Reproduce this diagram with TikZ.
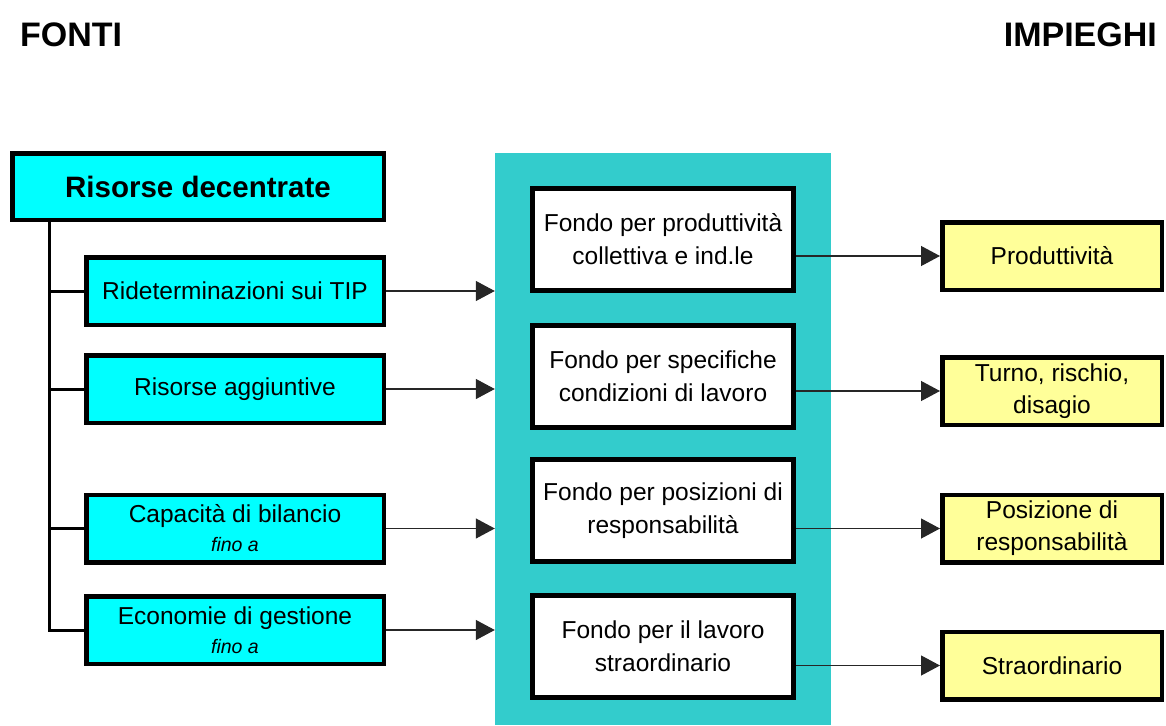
\documentclass[tikz,border=0pt]{standalone}
\usepackage{fontspec}
\setmainfont{Liberation Sans}
\usetikzlibrary{arrows.meta}
\definecolor{cyanbox}{HTML}{00FFFF}
\definecolor{yelbox}{HTML}{FFFF99}
\definecolor{panelteal}{HTML}{33CCCC}
\tikzset{
  srcbox/.style={draw=black, line width=4.5pt, fill=cyanbox, minimum width=297.5pt, minimum height=67.5pt, inner sep=0pt, align=center, font=\fontsize{24.5}{29}\selectfont},
  topbox/.style={srcbox, minimum width=371.5pt, minimum height=66.5pt, font=\bfseries\fontsize{29.5}{34}\selectfont},
  fondobox/.style={draw=black, line width=5pt, fill=white, minimum width=261pt, minimum height=102pt, inner sep=0pt, align=center, font=\fontsize{24.5}{33}\selectfont},
  usebox/.style={draw=black, line width=4.5pt, fill=yelbox, minimum width=219.5pt, minimum height=67.5pt, inner sep=0pt, align=center, font=\fontsize{24.5}{33}\selectfont},
  trunk/.style={line width=3pt, black},
  flow/.style={line width=1.2pt, black!85, -{Triangle[length=19pt,width=20pt]}},
  heading/.style={inner sep=0pt, font=\bfseries\fontsize{34}{40}\selectfont},
  note/.style={font=\itshape\fontsize{19.5}{29}\selectfont}
}
\begin{document}
\begin{tikzpicture}[x=1pt,y=-1pt]
\useasboundingbox (0,0) rectangle (1166,725);
% headings
\node[heading, anchor=base west] (fonti) at (20,46) {FONTI};
\node[heading, anchor=base east] (impieghi) at (1157,46) {IMPIEGHI};
% central panel
\node[fill=panelteal, minimum width=336pt, minimum height=572pt, inner sep=0pt] (panel) at (663,439) {};
% sources
\node[topbox] (top) at (198,186.5) {Risorse decentrate};
\node[srcbox] (l1) at (235,291) {Rideterminazioni sui TIP};
\node[srcbox] (l2) at (235,389) {Risorse aggiuntive};
\node[srcbox] (l3) at (235,528.5) {Capacità di bilancio\\{\itshape\fontsize{19.5}{29}\selectfont fino a}};
\node[srcbox] (l4) at (235,630) {Economie di gestione\\{\itshape\fontsize{19.5}{29}\selectfont fino a}};
% trunk
\coordinate (t) at (49,222);
\draw[trunk] (t) |- (l4.west);
\draw[trunk] (t |- l1.west) -- (l1.west);
\draw[trunk] (t |- l2.west) -- (l2.west);
\draw[trunk] (t |- l3.west) -- (l3.west);
% funds
\node[fondobox] (w1) at (663,239) {Fondo per produttività\\collettiva e ind.le};
\node[fondobox] (w2) at (663,376) {Fondo per specifiche\\condizioni di lavoro};
\node[fondobox] (w3) at (663,510.5) {Fondo per posizioni di\\responsabilità};
\node[fondobox] (w4) at (663,646.5) {Fondo per il lavoro\\straordinario};
% uses
\node[usebox] (y1) at (1052,256) {Produttività};
\node[usebox] (y2) at (1052,391) {Turno, rischio,\\[-1pt]disagio};
\node[usebox] (y3) at (1052,528.5) {Posizione di\\[-1pt]responsabilità};
\node[usebox] (y4) at (1052,665.5) {Straordinario};
% incoming arrows
\draw[flow] (l1.east) -- (l1.east -| panel.west);
\draw[flow] (l2.east) -- (l2.east -| panel.west);
\draw[flow] (l3.east) -- (l3.east -| panel.west);
\draw[flow] (l4.east) -- (l4.east -| panel.west);
% outgoing arrows
\draw[flow] (w1.east |- y1.west) -- (y1.west);
\draw[flow] (w2.east |- y2.west) -- (y2.west);
\draw[flow] (w3.east |- y3.west) -- (y3.west);
\draw[flow] (w4.east |- y4.west) -- (y4.west);
\end{tikzpicture}
\end{document}
